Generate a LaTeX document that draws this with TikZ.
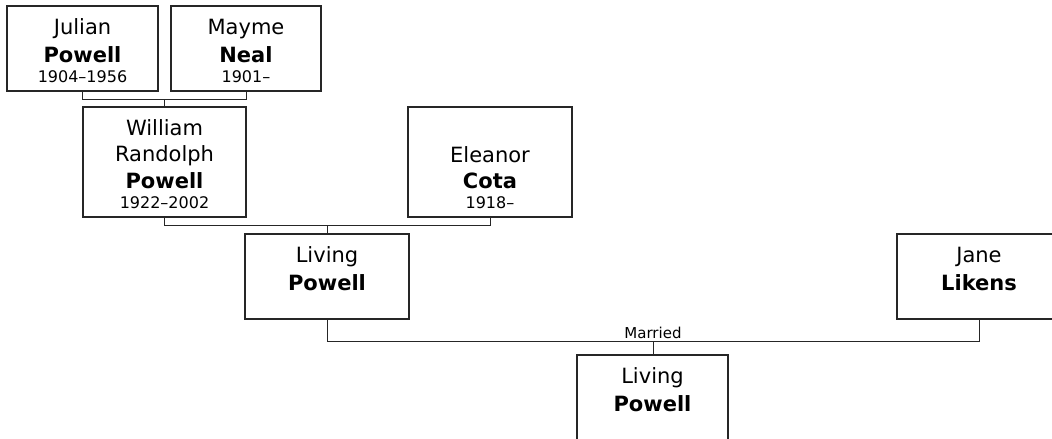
\documentclass[tikz,border=0pt]{standalone}
\usepackage{fontspec}
\setmainfont{DejaVu Sans}
\usetikzlibrary{
    positioning,
    calc
}
\definecolor{CinzaLinha}{HTML}{262626}

\newcommand{\linha}{\rule[-4pt]{0pt}{26pt}}
\newcommand{\datas}[1]{{\fontsize{16}{20}\selectfont\rule[-2pt]{0pt}{16pt}#1}}

\tikzset{
    pessoa/.style={
        draw=CinzaLinha,
        line width=1.1pt,
        fill=white,
        align=center,
        inner sep=0pt,
        minimum width=164pt,
        minimum height=85pt,
        font=\fontsize{21}{26}\selectfont
    },
    ligacao/.style={
        draw=CinzaLinha,
        line width=1pt
    }
}

\begin{document}
\begin{tikzpicture}[x=1pt, y=-1pt]
    \fill[white] (0,0) rectangle (1052,439);
    \useasboundingbox (0,0) rectangle (1052,439);

    % avos
    \node[pessoa, minimum width=151pt] (julian) at (82.5,48.5)
        {\linha Julian\\\linha\textbf{Powell}\\[-6pt]\datas{1904--1956}};
    \node[pessoa, minimum width=150pt] (mayme) at (246,48.5)
        {\linha Mayme\\\linha\textbf{Neal}\\[-6pt]\datas{1901--}};

    % pais
    \node[pessoa, minimum width=163pt, minimum height=110pt] (william) at (164.5,162)
        {\linha William\\\linha Randolph\\\linha\textbf{Powell}\\[-6pt]\datas{1922--2002}};
    \node[pessoa, minimum height=110pt] (eleanor) at (490,162)
        {\linha\\\linha Eleanor\\\linha\textbf{Cota}\\[-6pt]\datas{1918--}};

    % casal
    \node[pessoa] (living) at (327,276.5)
        {\linha Living\\\linha\textbf{Powell}\\[-6pt]\datas{}};
    \node[pessoa] (jane) at (979,276.5)
        {\linha Jane\\\linha\textbf{Likens}\\[-6pt]\datas{}};

    % filho
    \node[pessoa, minimum width=151pt] (filho) at (652.5,397.5)
        {\linha Living\\\linha\textbf{Powell}\\[-6pt]\datas{}};

    % ligacoes
    \coordinate (uniaoJM) at ($(julian.south)!.5!(mayme.south)+(0,8)$);
    \draw[ligacao] (julian.south) |- (uniaoJM) -| (mayme.south);
    \draw[ligacao] (uniaoJM) -- (uniaoJM |- william.north);

    \coordinate (uniaoWE) at ($(william.south)!.5!(eleanor.south)+(0,8)$);
    \draw[ligacao] (william.south) |- (uniaoWE) -| (eleanor.south);
    \draw[ligacao] (uniaoWE) -- (uniaoWE |- living.north);

    \coordinate (uniaoLJ) at ($(living.south)!.5!(jane.south)+(0,22)$);
    \draw[ligacao] (living.south) |- (uniaoLJ) -| (jane.south);
    \draw[ligacao] (uniaoLJ) -- (uniaoLJ |- filho.north);
    \node[above=3pt, inner sep=0pt, font=\fontsize{15}{18}\selectfont] (casado) at (uniaoLJ) {Married};
\end{tikzpicture}
\end{document}
